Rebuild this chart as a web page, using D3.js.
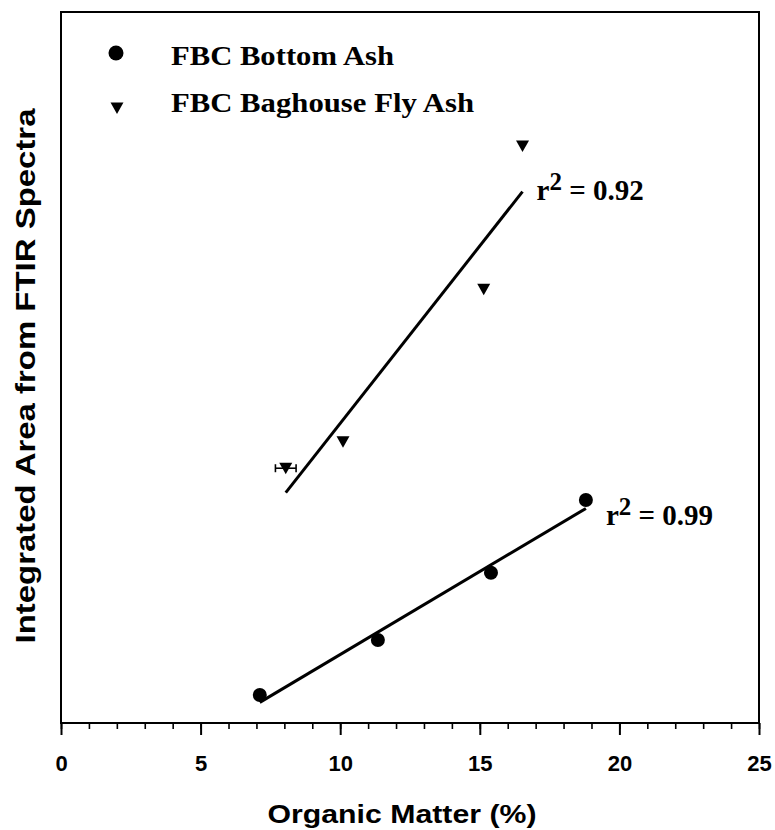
<!DOCTYPE html>
<html>
<head>
<meta charset="utf-8">
<script src="https://cdn.jsdelivr.net/npm/d3@7"></script>
<style>
  body { margin: 0; background: #fff; }
  svg { display: block; }
</style>
</head>
<body>
<svg id="chart" width="775" height="830"></svg>
<script>
// Organic matter (%) vs integrated FTIR area (arbitrary units)
const bottomAshOM   = [7.12, 11.35, 15.40, 18.80];
const bottomAshArea = [1.18, 3.50, 6.34, 9.41];
const flyAshOM      = [8.05, 10.10, 15.14, 16.53];
const flyAshArea    = [10.75, 11.87, 18.30, 24.35];
const flyAshOMErr   = [0.37, 0, 0, 0];
const seriesNames   = ["FBC Bottom Ash", "FBC Baghouse Fly Ash"];
const r2Labels      = ["0.99", "0.92"];
const xTickValues   = [0, 5, 10, 15, 20, 25];
const xMinorValues  = d3.range(0, 26, 1);
const xDomain       = [0, 25];
const yDomain       = [0, 30];

const svg = d3.select("#chart");
const M = { left: 61, right: 759, top: 12, bottom: 723 };
const SANS = "'Liberation Sans', Arial, sans-serif";
const SERIF = "'Liberation Serif', 'Times New Roman', serif";

const x = d3.scaleLinear().domain(xDomain).range([M.left, M.right]);
const y = d3.scaleLinear().domain(yDomain).range([M.bottom, M.top]);

// least-squares fit over the data range
function fit(xs, ys) {
  const mx = d3.mean(xs), my = d3.mean(ys);
  let sxx = 0, sxy = 0;
  xs.forEach((v, i) => { sxx += (v - mx) ** 2; sxy += (v - mx) * (ys[i] - my); });
  const b = sxy / sxx, a = my - b * mx;
  const [x0, x1] = d3.extent(xs);
  return [[x0, a + b * x0], [x1, a + b * x1]];
}

// frame
svg.append("rect")
  .attr("x", M.left).attr("y", M.top)
  .attr("width", M.right - M.left).attr("height", M.bottom - M.top)
  .attr("fill", "none").attr("stroke", "#000").attr("stroke-width", 2);

// x axis: major ticks with labels, minor ticks every unit
const xAxis = svg.append("g").attr("transform", `translate(0,${M.bottom})`);
xAxis.call(d3.axisBottom(x).tickValues(xMinorValues).tickSize(6).tickFormat(""))
  .call(g => g.select(".domain").remove())
  .call(g => g.selectAll("line").attr("stroke-width", 1.6));
const xMajor = svg.append("g").attr("transform", `translate(0,${M.bottom})`);
xMajor.call(d3.axisBottom(x).tickValues(xTickValues).tickSize(12).tickPadding(20).tickFormat(d3.format("d")))
  .call(g => g.select(".domain").remove())
  .call(g => g.selectAll("line").attr("stroke-width", 2))
  .call(g => g.selectAll("text")
    .attr("font-family", SANS).attr("font-weight", "bold")
    .attr("font-size", 22).attr("fill", "#000"));

// axis titles
svg.append("text")
  .attr("x", 402).attr("y", 823)
  .attr("text-anchor", "middle")
  .attr("font-family", SANS).attr("font-weight", "bold").attr("font-size", 25)
  .attr("textLength", 269).attr("lengthAdjust", "spacingAndGlyphs")
  .text("Organic Matter (%)");

svg.append("text")
  .attr("transform", "translate(35,376) rotate(-90)")
  .attr("text-anchor", "middle")
  .attr("font-family", SANS).attr("font-weight", "bold").attr("font-size", 28)
  .attr("textLength", 535).attr("lengthAdjust", "spacingAndGlyphs")
  .text("Integrated Area from FTIR Spectra");

// markers
const triPath = "M-6.5,-5.5 L6.5,-5.5 L0,6 Z";

const bottomPts = bottomAshOM.map((v, i) => ({ om: v, area: bottomAshArea[i] }));
const flyPts = flyAshOM.map((v, i) => ({ om: v, area: flyAshArea[i], err: flyAshOMErr[i] }));

// regression lines
const line = d3.line().x(d => x(d[0])).y(d => y(d[1]));
const bottomFit = fit(bottomAshOM, bottomAshArea);
const flyFit = fit(flyAshOM, flyAshArea);
[bottomFit, flyFit].forEach(seg => {
  svg.append("path").attr("d", line(seg))
    .attr("fill", "none").attr("stroke", "#000").attr("stroke-width", 3);
});

// error bars
const eb = svg.append("g").attr("stroke", "#000").attr("stroke-width", 1.6);
flyPts.filter(d => d.err > 0).forEach(d => {
  const yy = y(d.area);
  eb.append("line").attr("x1", x(d.om - d.err)).attr("x2", x(d.om + d.err)).attr("y1", yy).attr("y2", yy);
  eb.append("line").attr("x1", x(d.om - d.err)).attr("x2", x(d.om - d.err)).attr("y1", yy - 4).attr("y2", yy + 4);
  eb.append("line").attr("x1", x(d.om + d.err)).attr("x2", x(d.om + d.err)).attr("y1", yy - 4).attr("y2", yy + 4);
});

svg.append("g").selectAll("circle").data(bottomPts).join("circle")
  .attr("cx", d => x(d.om)).attr("cy", d => y(d.area)).attr("r", 7).attr("fill", "#000");

svg.append("g").selectAll("path").data(flyPts).join("path")
  .attr("d", triPath)
  .attr("transform", d => `translate(${x(d.om)},${y(d.area)})`)
  .attr("fill", "#000");

// r-squared labels beside the fit line ends
function r2Label(seg, label, dx, dy) {
  const t = svg.append("text")
    .attr("x", x(seg[1][0]) + dx).attr("y", y(seg[1][1]) + dy)
    .attr("font-family", SERIF).attr("font-weight", "bold").attr("font-size", 29)
    .attr("fill", "#000");
  t.append("tspan").text("r");
  t.append("tspan").attr("dy", -10).attr("font-size", 25).text("2");
  t.append("tspan").attr("dy", 10).text(" = " + label);
}
r2Label(bottomFit, r2Labels[0], 20, 17);
r2Label(flyFit, r2Labels[1], 14, 8);

// legend
const legend = svg.append("g");
legend.append("circle").attr("cx", 116).attr("cy", 53).attr("r", 7.5).attr("fill", "#000");
legend.append("path").attr("d", triPath).attr("transform", "translate(117,108)").attr("fill", "#000");
legend.append("text").attr("x", 171).attr("y", 65)
  .attr("font-family", SERIF).attr("font-weight", "bold").attr("font-size", 28)
  .attr("textLength", 223).attr("lengthAdjust", "spacingAndGlyphs")
  .text(seriesNames[0]);
legend.append("text").attr("x", 171).attr("y", 112)
  .attr("font-family", SERIF).attr("font-weight", "bold").attr("font-size", 28)
  .attr("textLength", 303).attr("lengthAdjust", "spacingAndGlyphs")
  .text(seriesNames[1]);
</script>
</body>
</html>
